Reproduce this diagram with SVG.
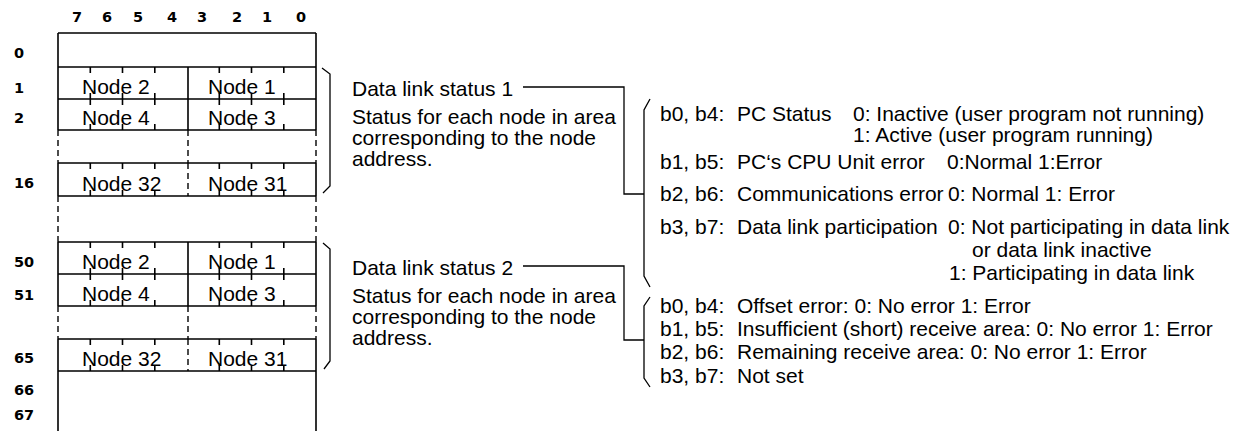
<svg xmlns="http://www.w3.org/2000/svg" xmlns:xlink="http://www.w3.org/1999/xlink" width="1242" height="431" viewBox="0 0 1242 431">
<style>
.t{font-family:"Liberation Sans",Arial,Helvetica,sans-serif;font-size:21px;fill:#000}
.b{font-family:"DejaVu Sans","Liberation Sans",Arial,sans-serif;font-size:14.5px;font-weight:bold;fill:#000}
.hd{text-anchor:middle}
.ln{stroke:#000;stroke-width:1.6;fill:none}
.ds{stroke:#000;stroke-width:1.4;stroke-dasharray:6 4;fill:none}
.th{stroke:#000;stroke-width:1.3;fill:none}
</style>
<defs>
<path id="tk" class="ln" d="M90.3,0v6M122.5,0v6M154.8,0v6M219.3,0v6M251.5,0v6M283.8,0v6"/>
</defs>
<rect width="1242" height="431" fill="#fff"/>

<g id="bit-header" class="b hd">
<text x="77" y="22">7</text><text x="107" y="22">6</text><text x="138" y="22">5</text><text x="172" y="22">4</text>
<text x="202" y="22">3</text><text x="237" y="22">2</text><text x="267" y="22">1</text><text x="301" y="22">0</text>
</g>

<g id="row-labels" class="b">
<text x="14" y="58">0</text><text x="14" y="93">1</text><text x="14" y="123">2</text>
<text x="14" y="188">16</text><text x="14" y="267">50</text><text x="14" y="300">51</text>
<text x="14" y="363">65</text><text x="14" y="395">66</text><text x="14" y="420">67</text>
</g>

<g id="table-frame">
<path class="ln" d="M58,33H316M58,67H316M58,99H316M58,130H316M58,163H316M58,196H316M58,242H316M58,274H316M58,306H316M58,339H316M58,371H316"/>
<path class="ln" d="M58,33V130M316,33V130M188,67V130M58,163V196M316,163V196M58,242V306M316,242V306M188,242V306M58,339V431M316,339V431"/>
<path class="ds" d="M58,130V163M188,130V163M316,130V163M188,163V196M58,196V242M316,196V242M58,306V339M188,306V339M316,306V339M188,339V371"/>
</g>

<g id="row-1">
<use xlink:href="#tk" transform="translate(0,67)"/><use xlink:href="#tk" transform="translate(0,99) scale(1,-1)"/>
<text class="t" x="82" y="94">Node 2</text><text class="t" x="208" y="94">Node 1</text>
</g>
<g id="row-2">
<use xlink:href="#tk" transform="translate(0,99)"/><use xlink:href="#tk" transform="translate(0,130) scale(1,-1)"/>
<text class="t" x="82" y="125">Node 4</text><text class="t" x="208" y="125">Node 3</text>
</g>
<g id="row-16">
<use xlink:href="#tk" transform="translate(0,163)"/><use xlink:href="#tk" transform="translate(0,196) scale(1,-1)"/>
<text class="t" x="82" y="191">Node 32</text><text class="t" x="208" y="191">Node 31</text>
</g>
<g id="row-50">
<use xlink:href="#tk" transform="translate(0,242)"/><use xlink:href="#tk" transform="translate(0,274) scale(1,-1)"/>
<text class="t" x="82" y="269">Node 2</text><text class="t" x="208" y="269">Node 1</text>
</g>
<g id="row-51">
<use xlink:href="#tk" transform="translate(0,274)"/><use xlink:href="#tk" transform="translate(0,306) scale(1,-1)"/>
<text class="t" x="82" y="301">Node 4</text><text class="t" x="208" y="301">Node 3</text>
</g>
<g id="row-65">
<use xlink:href="#tk" transform="translate(0,339)"/><use xlink:href="#tk" transform="translate(0,371) scale(1,-1)"/>
<text class="t" x="82" y="366">Node 32</text><text class="t" x="208" y="366">Node 31</text>
</g>

<g id="status-1" class="t">
<text x="352" y="96">Data link status 1</text>
<text x="352" y="124">Status for each node in area</text>
<text x="352" y="145">corresponding to the node</text>
<text x="352" y="166">address.</text>
</g>
<g id="status-2" class="t">
<text x="352" y="275">Data link status 2</text>
<text x="352" y="303">Status for each node in area</text>
<text x="352" y="324">corresponding to the node</text>
<text x="352" y="345">address.</text>
</g>

<g id="bits-1" class="t">
<text x="660" y="121">b0, b4:</text><text x="737" y="121">PC Status</text><text x="853" y="121">0: Inactive (user program not running)</text>
<text x="853" y="142">1: Active (user program running)</text>
<text x="660" y="169">b1, b5:</text><text x="737" y="169">PC‘s CPU Unit error</text><text x="947" y="169">0:Normal 1:Error</text>
<text x="660" y="201">b2, b6:</text><text x="737" y="201">Communications error</text><text x="948" y="201">0: Normal 1: Error</text>
<text x="660" y="234">b3, b7:</text><text x="737" y="234">Data link participation</text><text x="948" y="234">0: Not participating in data link</text>
<text x="972" y="257">or data link inactive</text>
<text x="949" y="280">1: Participating in data link</text>
</g>
<g id="bits-2" class="t">
<text x="660" y="313">b0, b4:</text><text x="737" y="313">Offset error: 0: No error 1: Error</text>
<text x="660" y="336">b1, b5:</text><text x="737" y="336">Insufficient (short) receive area: 0: No error 1: Error</text>
<text x="660" y="359">b2, b6:</text><text x="737" y="359">Remaining receive area: 0: No error 1: Error</text>
<text x="660" y="383">b3, b7:</text><text x="737" y="383">Not set</text>
</g>

<g id="connectors">
<path class="th" d="M322,68L330,74V186L323,193"/>
<path class="th" d="M323,243L330,249V361L324,369"/>
<path class="th" d="M523,87H624V194H644"/>
<path class="th" d="M523,266H624V340H644"/>
<path class="th" d="M650,99L644,110V276L650,287"/>
<path class="th" d="M650,297L644,306V378L650,387"/>
</g>
</svg>
